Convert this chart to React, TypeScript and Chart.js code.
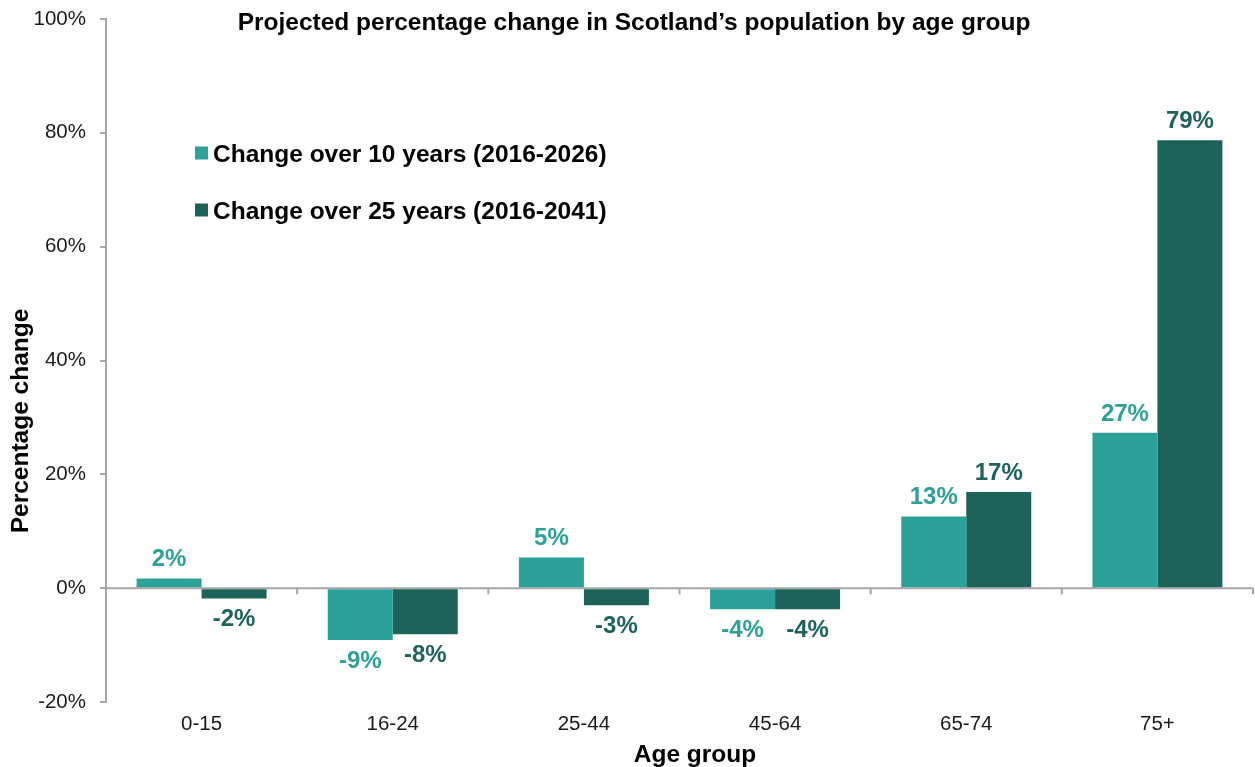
import React, { useEffect, useRef } from "react";
import { Chart, registerables } from "chart.js";

Chart.register(...registerables);

const categories = ["0-15", "16-24", "25-44", "45-64", "65-74", "75+"];
const change10 = [1.7, -9.1, 5.4, -3.7, 12.6, 27.3];
const change25 = [-1.8, -8.1, -3.0, -3.7, 16.9, 78.7];
const seriesLabels = ["Change over 10 years (2016-2026)", "Change over 25 years (2016-2041)"];
const yTicks = [-20, 0, 20, 40, 60, 80, 100];
const titleText = "Projected percentage change in Scotland\u2019s population by age group";
const xTitle = "Age group";
const yTitle = "Percentage change";

const colors = ["#2ca197", "#1d6359"];
const FONT = "'Liberation Sans', Arial, sans-serif";
const AXIS = "#a6a6a6";

const decor = {
  id: "decor",
  beforeDatasetsDraw(chart: any) {
    const { ctx, chartArea, scales } = chart;
    const y0 = scales.y.getPixelForValue(0);
    const n = categories.length;
    const w = (chartArea.right - chartArea.left) / n;
    ctx.save();
    ctx.strokeStyle = AXIS;
    ctx.lineWidth = 2;
    ctx.beginPath();
    ctx.moveTo(chartArea.left, y0);
    ctx.lineTo(chartArea.right, y0);
    for (let i = 1; i <= n; i++) {
      const px = chartArea.left + i * w;
      ctx.moveTo(px, y0);
      ctx.lineTo(px, y0 + 6);
    }
    ctx.stroke();
    ctx.restore();
  },
  afterDatasetsDraw(chart: any) {
    const { ctx } = chart;
    ctx.save();
    ctx.font = `bold 24px ${FONT}`;
    ctx.textAlign = "center";
    chart.data.datasets.forEach((ds: any, di: number) => {
      const meta = chart.getDatasetMeta(di);
      meta.data.forEach((el: any, i: number) => {
        const v = ds.data[i] as number;
        const txt = Math.round(v) + "%";
        ctx.fillStyle = colors[di];
        if (v >= 0) {
          ctx.textBaseline = "alphabetic";
          ctx.fillText(txt, el.x, el.y - 12);
        } else {
          ctx.textBaseline = "top";
          ctx.fillText(txt, el.x, el.y + 9);
        }
      });
    });
    ctx.restore();
  },
  afterDraw(chart: any) {
    const { ctx } = chart;
    ctx.save();
    ctx.fillStyle = "#000";
    ctx.font = `bold 24.5px ${FONT}`;
    ctx.textAlign = "center";
    ctx.textBaseline = "alphabetic";
    ctx.fillText(titleText, 634, 30);
    ctx.fillText(xTitle, 695, 762);
    ctx.save();
    ctx.translate(28, 421);
    ctx.rotate(-Math.PI / 2);
    ctx.fillText(yTitle, 0, 0);
    ctx.restore();
    const rows = [153, 210];
    chart.data.datasets.forEach((ds: any, di: number) => {
      const cy = rows[di];
      ctx.fillStyle = colors[di];
      ctx.fillRect(195, cy - 6.5, 13, 13);
      ctx.fillStyle = "#000";
      ctx.textAlign = "left";
      ctx.textBaseline = "alphabetic";
      ctx.fillText(ds.label, 213, cy + 9);
    });
    ctx.restore();
  },
};

export default function App() {
  const ref = useRef<HTMLCanvasElement | null>(null);
  useEffect(() => {
    if (!ref.current) return;
    const chart = new Chart(ref.current, {
      type: "bar",
      data: {
        labels: categories,
        datasets: [
          { label: seriesLabels[0], data: change10, backgroundColor: colors[0], barPercentage: 1, categoryPercentage: 0.68 },
          { label: seriesLabels[1], data: change25, backgroundColor: colors[1], barPercentage: 1, categoryPercentage: 0.68 },
        ],
      },
      options: {
        animation: false,
        responsive: true,
        maintainAspectRatio: false,
        layout: { padding: { top: 19, right: 2, left: 0, bottom: 0 } },
        plugins: { legend: { display: false }, title: { display: false }, tooltip: { enabled: false } },
        scales: {
          x: {
            type: "category",
            grid: { display: false, drawTicks: false, tickLength: 0 },
            border: { display: false },
            ticks: { color: "#1a1a1a", font: { family: FONT, size: 20.5 }, padding: 10, maxRotation: 0, autoSkip: false },
            afterFit: (s: any) => { s.height = 65; s.paddingLeft = 0; s.paddingRight = 0; },
          },
          y: {
            min: -20,
            max: 100,
            afterBuildTicks: (s: any) => { s.ticks = yTicks.map((v) => ({ value: v })); },
            grid: { drawOnChartArea: false, drawTicks: true, tickLength: 6, color: AXIS, lineWidth: 2 },
            border: { display: true, color: AXIS, width: 2 },
            ticks: { color: "#1a1a1a", font: { family: FONT, size: 20.5 }, padding: 14, callback: (v: any) => v + "%" },
            afterFit: (s: any) => { s.width = 106; s.paddingTop = 0; s.paddingBottom = 0; },
          },
        },
      },
      plugins: [decor],
    });
    return () => chart.destroy();
  }, []);
  return (
    <div style={{ position: "absolute", left: 0, top: 0, width: 1255, height: 767 }}>
      <canvas ref={ref} />
    </div>
  );
}
